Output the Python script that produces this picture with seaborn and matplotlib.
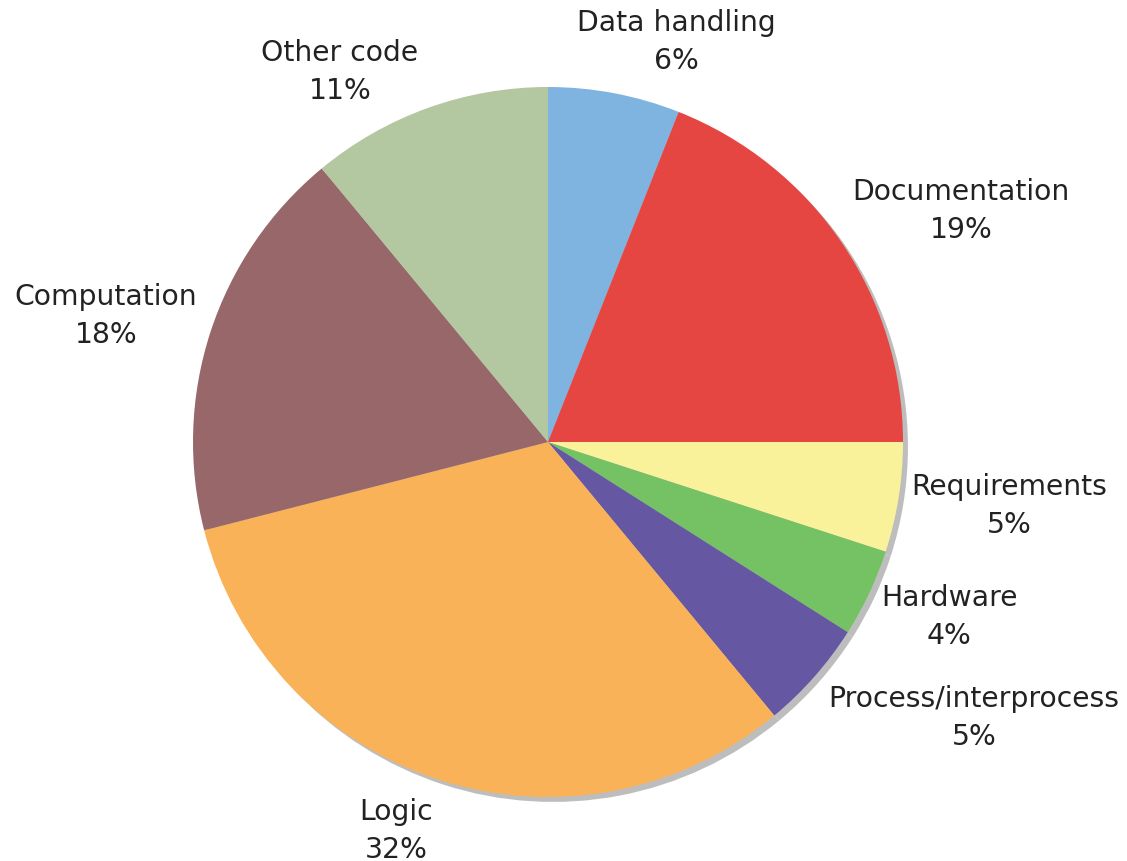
import matplotlib
matplotlib.use('Agg')
import matplotlib.pyplot as plt
import seaborn as sns

# slices, clockwise from 12 o'clock
categories = ['Data handling', 'Documentation', 'Requirements', 'Hardware',
              'Process/interprocess', 'Logic', 'Computation', 'Other code']
shares = [6, 19, 5, 4, 5, 32, 18, 11]
colors = ['#7fb3e0', '#e64641', '#faf29a', '#74c263',
          '#6657a3', '#f9b258', '#986769', '#b3c8a0']

# label centres in data units (pie radius = 1)
label_pos = [(0.363, 1.130), (1.163, 0.654), (1.299, -0.177), (1.130, -0.490),
             (1.200, -0.775), (-0.428, -1.093), (-1.245, 0.358), (-0.586, 1.045)]

sns.set_theme(style='white')
plt.rcParams['font.family'] = ['DejaVu Sans']

fig = plt.figure(figsize=(11.27, 8.62), dpi=100)
ax = fig.add_axes([193 / 1127, 64 / 862, 710 / 1127, 710 / 862])

wedges, texts = ax.pie(shares, colors=colors, startangle=90, counterclock=False,
                       wedgeprops=dict(linewidth=0),
                       shadow=dict(ox=0.01, oy=-0.01, facecolor='#bdbdbd',
                                   edgecolor='none', alpha=1))

for (x, y), name, val in zip(label_pos, categories, shares):
    ax.text(x, y, '{}\n{}%'.format(name, val), ha='center', va='center',
            multialignment='center', fontsize=20.3, color='#222222',
            linespacing=1.45)

ax.set_xlim(-1, 1)
ax.set_ylim(-1, 1)
ax.set_aspect('equal')
ax.axis('off')

fig.savefig('out.png', dpi=100)
